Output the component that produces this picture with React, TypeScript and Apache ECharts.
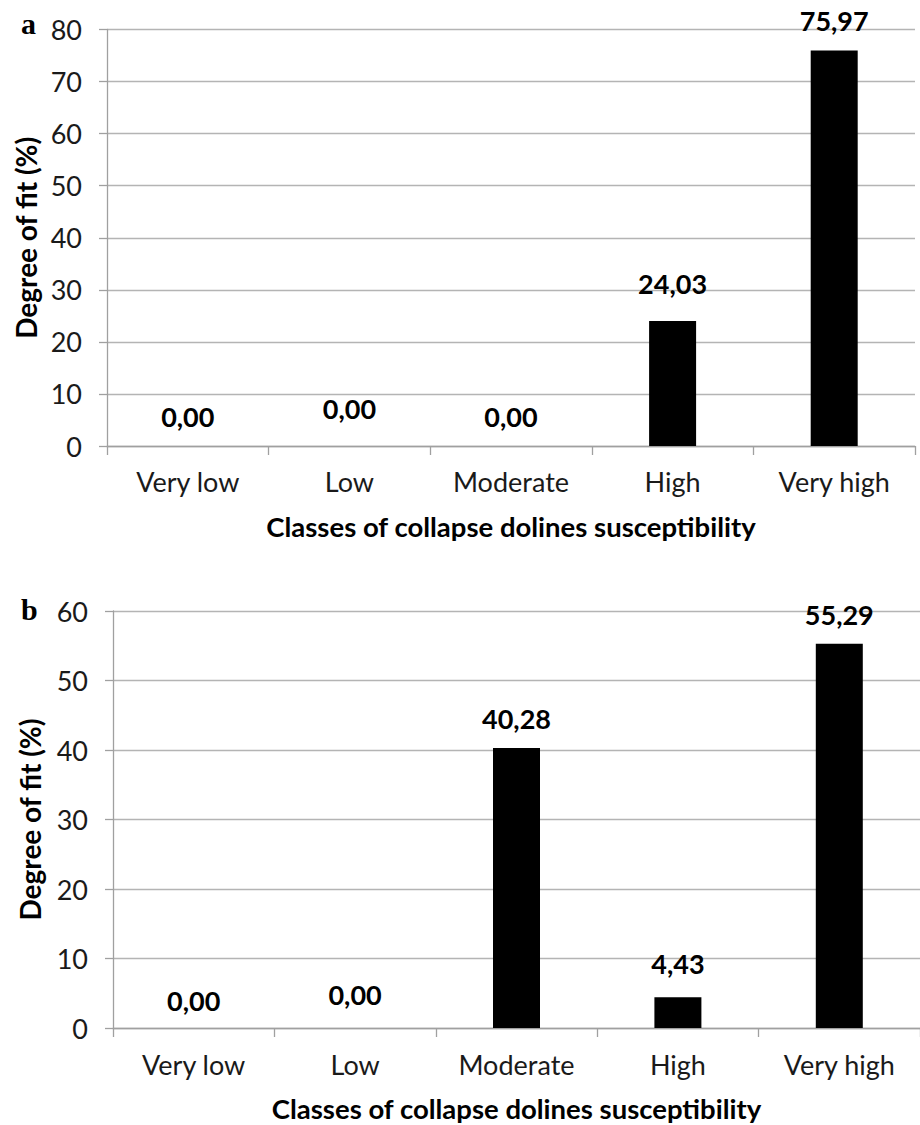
import React, { useEffect, useRef } from "react";
import * as echarts from "echarts";

const categories = ["Very low", "Low", "Moderate", "High", "Very high"];
const valuesA = [0.0, 0.0, 0.0, 24.03, 75.97];
const valuesB = [0.0, 0.0, 40.28, 4.43, 55.29];
const yMaxA = 80;
const yMaxB = 60;
const yStep = 10;
const panelLetters = ["a", "b"];
const xTitle = "Classes of collapse dolines susceptibility";
const yTitle = "Degree of fit (%)";

// styling (label lift above bar top, px)
const liftA = [16, 24, 16, 24, 16];
const liftB = [14, 20, 16, 20, 16];

const FONT = "Lato";
const GRID_COLOR = "#b4b4b4";
const AXIS_COLOR = "#a0a0a0";
const TEXT_COLOR = "#1a1a1a";

const fmt = (v: number) => v.toFixed(2).replace(".", ",");

function makeX(gridIndex: number, margin: number) {
  return {
    type: "category",
    gridIndex,
    data: categories,
    axisLine: { show: true, lineStyle: { color: AXIS_COLOR, width: 1.3 } },
    axisTick: { show: true, interval: 0, length: 9, lineStyle: { color: AXIS_COLOR, width: 1.3 } },
    axisLabel: { interval: 0, fontSize: 27, fontFamily: FONT, color: TEXT_COLOR, margin },
    name: xTitle,
    nameLocation: "middle",
    nameGap: 66,
    nameTextStyle: { fontSize: 27.5, fontWeight: "bold", fontFamily: FONT, color: "#000" },
  };
}

function makeY(gridIndex: number, max: number, nameGap: number) {
  return {
    type: "value",
    gridIndex,
    min: 0,
    max,
    interval: yStep,
    axisLine: { show: true, lineStyle: { color: AXIS_COLOR, width: 1.3 } },
    axisTick: { show: true, length: 8, lineStyle: { color: AXIS_COLOR, width: 1.3 } },
    splitLine: { show: true, lineStyle: { color: GRID_COLOR, width: 1.3 } },
    axisLabel: { fontSize: 27, fontFamily: FONT, color: TEXT_COLOR, margin: 25 },
    name: yTitle,
    nameLocation: "middle",
    nameGap,
    nameRotate: 90,
    nameTextStyle: { fontSize: 28, fontWeight: "bold", fontFamily: FONT, color: "#000" },
  };
}

function makeSeries(values: number[], lift: number[], idx: number) {
  return {
    type: "bar",
    xAxisIndex: idx,
    yAxisIndex: idx,
    barWidth: 47,
    itemStyle: { color: "#000" },
    data: values.map((v, i) => ({ value: v, label: { distance: lift[i] } })),
    label: {
      show: true,
      position: "top",
      formatter: (p: any) => fmt(p.value),
      fontSize: 27,
      fontWeight: "bold",
      fontFamily: FONT,
      color: "#000",
    },
  };
}

export default function App() {
  const ref = useRef<HTMLDivElement>(null);
  useEffect(() => {
    if (!ref.current) return;
    const chart = echarts.init(ref.current, null, { renderer: "svg" });
    chart.setOption({
      animation: false,
      backgroundColor: "#fff",
      grid: [
        { left: 107, top: 29.5, width: 808, height: 416.5 },
        { left: 113, top: 611, width: 810, height: 417 },
      ],
      xAxis: [makeX(0, 22), makeX(1, 23)],
      yAxis: [makeY(0, yMaxA, 63), makeY(1, yMaxB, 69)],
      series: [makeSeries(valuesA, liftA, 0), makeSeries(valuesB, liftB, 1)],
      graphic: [
        {
          type: "text",
          left: 21,
          top: 8,
          style: { text: panelLetters[0], font: "bold 30px 'Liberation Serif'", fill: "#000" },
        },
        {
          type: "text",
          left: 21,
          top: 594,
          style: { text: panelLetters[1], font: "bold 30px 'Liberation Serif'", fill: "#000" },
        },
      ],
    });
    return () => chart.dispose();
  }, []);
  return (
    <div
      ref={ref}
      style={{ position: "absolute", left: 0, top: 0, width: 920, height: 1125 }}
    />
  );
}
